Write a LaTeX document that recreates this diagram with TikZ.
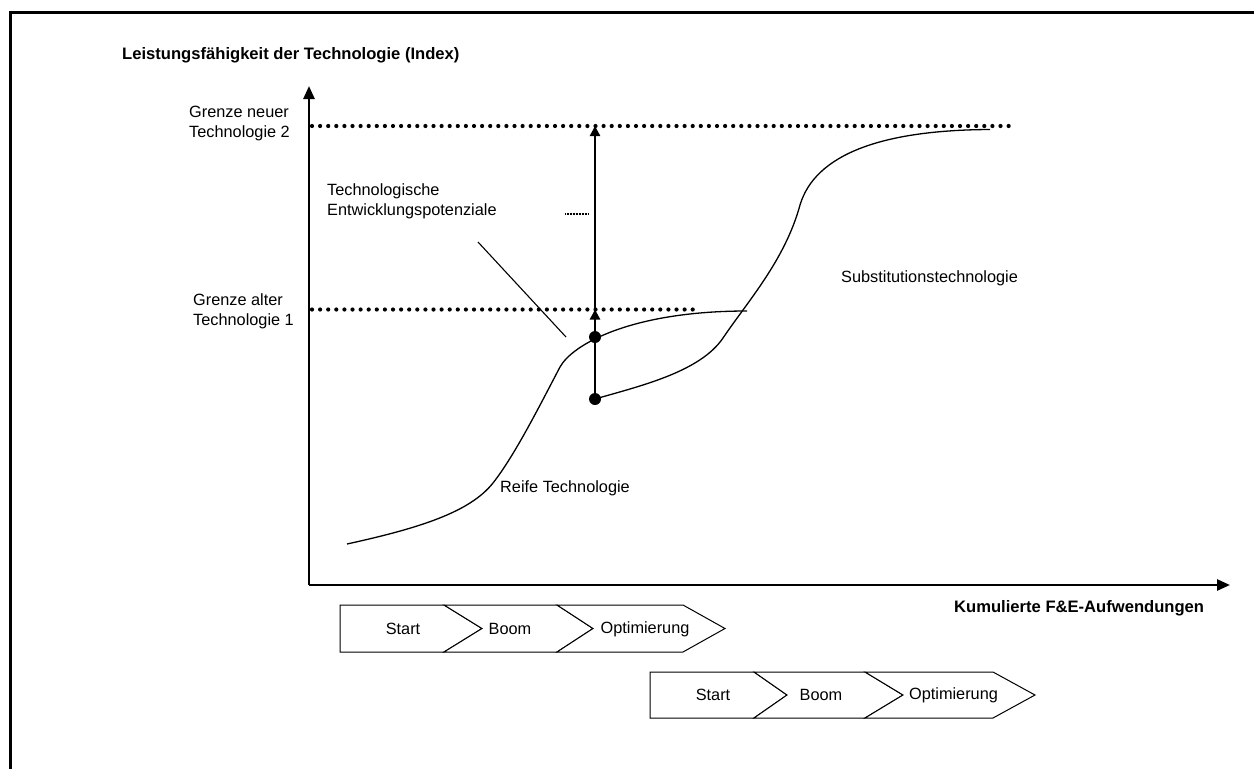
\documentclass[tikz,border=0pt]{standalone}
\usepackage{fontspec}
\setmainfont{Liberation Sans}
\usetikzlibrary{arrows.meta}
\begin{document}
\begin{tikzpicture}[x=1pt,y=-1pt,
  frameline/.style={line width=2.4pt, black},
  axis/.style={line width=2.6pt, -{Triangle[length=13pt,width=11pt]}},
  varrow/.style={line width=2.4pt, -{Triangle[length=10pt,width=10pt]}},
  dotline/.style={line width=4.2pt, dash pattern=on 0pt off 8.1pt, line cap=round},
  curve/.style={line width=1.3pt},
  dot/.style={circle, fill=black, inner sep=0pt, minimum size=12pt},
  lbl/.style={font=\fontsize{16.3}{20}\selectfont, inner sep=0pt, align=left},
  blbl/.style={font=\fontsize{16.6}{20}\selectfont\bfseries, inner sep=0pt},
  chev/.style={draw, line width=1pt, line join=miter, fill=white},
  chevtext/.style={font=\fontsize{16.3}{19}\selectfont, inner sep=0pt}
]
\useasboundingbox (0,0) rectangle (1254,769);

% frame
\draw[frameline] (10.5,769) -- (10.5,12.5) -- (1254,12.5);

% title
\node[blbl, anchor=west] (title) at (122,55) {Leistungsfähigkeit der Technologie (Index)};

% axes
\coordinate (O) at (309,585);
\coordinate (ytip) at (309,86);
\coordinate (xtip) at (1230,585);
\draw[axis] (O) -- (ytip);
\draw[axis] (O) -- (xtip);
\node[blbl, anchor=west] (xlabel) at (954,608) {Kumulierte F\&E-Aufwendungen};

% limits
\coordinate (n1) at (312,126);
\coordinate (n2) at (1012,126);
\coordinate (a1) at (312,309.5);
\coordinate (a2) at (695,309.5);
\draw[dotline] (n1) -- (n2);
\draw[dotline] (a1) -- (a2);

\node[lbl, anchor=west] (gneu) at (189,123) {Grenze neuer\\Technologie 2};
\node[lbl, anchor=west] (galt) at (193,311.5) {Grenze alter\\Technologie 1};
\node[lbl, anchor=west] (pot) at (327,201) {Technologische\\Entwicklungspotenziale};

% curves
\draw[curve] (347,544) .. controls (420,528) and (470,512) .. (493,483)
  .. controls (515,455) and (540,405) .. (560,367)
  .. controls (572,345) and (630,311) .. (747,311);
\draw[curve] (595,399) .. controls (640,386) and (700,372) .. (723,338)
  .. controls (748,301) and (785,260) .. (800,205)
  .. controls (815,155) and (880,130) .. (990,129.5);

\node[lbl, anchor=west] (reife) at (500,488) {Reife Technologie};
\node[lbl, anchor=west] (subst) at (841,278) {Substitutionstechnologie};

% potential arrows
\node[dot] (p0) at (595,399) {};
\node[dot] (p1) at (595,337) {};
\coordinate (q1) at (595,309.5);
\coordinate (q2) at (595,126);
\draw[varrow] (p0.center) -- (q1);
\draw[varrow] (q1) -- (q2);

% pointer lines
\coordinate (d1) at (478,242);
\coordinate (d2) at (566,337);
\draw[line width=1.1pt] (d1) -- (d2);
\coordinate (s1) at (565,214);
\coordinate (s2) at (589,214);
\draw[line width=1.6pt, dash pattern=on 1pt off 0.5pt] (s1) -- (s2);

% phase chevrons row 1
\draw[chev] (340,605) -- (444,605) -- (482,628.5) -- (444,652) -- (340,652) -- cycle;
\draw[chev] (444,605) -- (557,605) -- (593,628.5) -- (557,652) -- (444,652) -- (482,628.5) -- cycle;
\draw[chev] (557,605) -- (683,605) -- (725,628.5) -- (683,652) -- (557,652) -- (593,628.5) -- cycle;
\node[chevtext] (s1t) at (403,629) {Start};
\node[chevtext] (b1t) at (510,629) {Boom};
\node[chevtext] (o1t) at (645,629) {Optimierung};

% phase chevrons row 2
\draw[chev] (650,672) -- (754,672) -- (787,695) -- (754,718) -- (650,718) -- cycle;
\draw[chev] (754,672) -- (865,672) -- (903,695) -- (865,718) -- (754,718) -- (787,695) -- cycle;
\draw[chev] (865,672) -- (993,672) -- (1035,695) -- (993,718) -- (865,718) -- (903,695) -- cycle;
\node[chevtext] (s2t) at (713,695) {Start};
\node[chevtext] (b2t) at (821,695) {Boom};
\node[chevtext] (o2t) at (953.5,695) {Optimierung};
\end{tikzpicture}
\end{document}
